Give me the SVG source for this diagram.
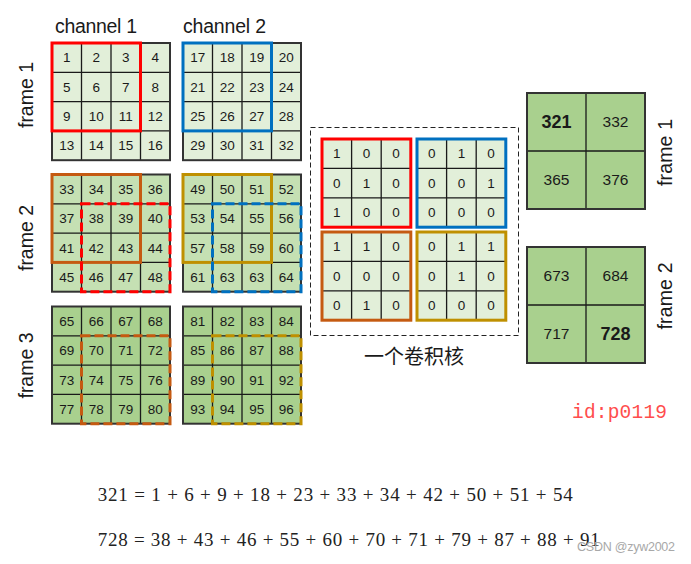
<svg xmlns="http://www.w3.org/2000/svg" width="691" height="564" viewBox="0 0 691 564">
<style>
text{font-family:"Liberation Sans",Arial,sans-serif;fill:#1a1a1a}
.n{font-size:13.5px;text-anchor:middle}
.lab{font-size:19.5px}
.o{font-size:15.5px;text-anchor:middle}
.ob{font-size:18px;font-weight:bold;text-anchor:middle}
.bg1{fill:#e2efd9}
.bg2{fill:#c5e0b3}
.bg3{fill:#a9d08e}
.ln{fill:none;stroke:#1a1a1a;stroke-width:1.3}
.bd{fill:none;stroke:#333;stroke-width:2}
.hl{fill:none;stroke-width:3}
.ds{stroke-dasharray:9 4}
.red{stroke:#ff0000}
.blue{stroke:#0070c0}
.brown{stroke:#c55a11}
.gold{stroke:#bf9000}
.f{font-family:"Liberation Serif","Times New Roman",serif;font-size:19px;fill:#222}
</style>
<defs>
<path id="g4" d="M29.5 0V117.2M59 0V117.2M88.5 0V117.2M0 29.3H118M0 58.6H118M0 87.9H118"/>
<path id="g3" d="M29.6 0V88.2M59.2 0V88.2M0 29.4H88.8M0 58.8H88.8"/>
<path id="g2" d="M59 0V116M0 58H118"/>
</defs>

<text class="lab" x="55" y="33" textLength="82">channel 1</text>
<text class="lab" x="183" y="33" textLength="83">channel 2</text>
<text class="lab" transform="translate(33,95) rotate(-90)" text-anchor="middle" textLength="66">frame 1</text>
<text class="lab" transform="translate(33,238) rotate(-90)" text-anchor="middle" textLength="66">frame 2</text>
<text class="lab" transform="translate(33,365.5) rotate(-90)" text-anchor="middle" textLength="66">frame 3</text>

<g id="f1c1" transform="translate(52,43)">
<rect class="bg1" width="118" height="117.2"/><use href="#g4" class="ln"/><rect class="bd" width="118" height="117.2"/>
<text class="n" x="14.75" y="19.4">1</text><text class="n" x="44.25" y="19.4">2</text><text class="n" x="73.75" y="19.4">3</text><text class="n" x="103.25" y="19.4">4</text>
<text class="n" x="14.75" y="48.7">5</text><text class="n" x="44.25" y="48.7">6</text><text class="n" x="73.75" y="48.7">7</text><text class="n" x="103.25" y="48.7">8</text>
<text class="n" x="14.75" y="78">9</text><text class="n" x="44.25" y="78">10</text><text class="n" x="73.75" y="78">11</text><text class="n" x="103.25" y="78">12</text>
<text class="n" x="14.75" y="107.3">13</text><text class="n" x="44.25" y="107.3">14</text><text class="n" x="73.75" y="107.3">15</text><text class="n" x="103.25" y="107.3">16</text>
<rect class="hl red" width="88.5" height="87.9"/>
</g>
<g id="f1c2" transform="translate(183,43)">
<rect class="bg1" width="118" height="117.2"/><use href="#g4" class="ln"/><rect class="bd" width="118" height="117.2"/>
<text class="n" x="14.75" y="19.4">17</text><text class="n" x="44.25" y="19.4">18</text><text class="n" x="73.75" y="19.4">19</text><text class="n" x="103.25" y="19.4">20</text>
<text class="n" x="14.75" y="48.7">21</text><text class="n" x="44.25" y="48.7">22</text><text class="n" x="73.75" y="48.7">23</text><text class="n" x="103.25" y="48.7">24</text>
<text class="n" x="14.75" y="78">25</text><text class="n" x="44.25" y="78">26</text><text class="n" x="73.75" y="78">27</text><text class="n" x="103.25" y="78">28</text>
<text class="n" x="14.75" y="107.3">29</text><text class="n" x="44.25" y="107.3">30</text><text class="n" x="73.75" y="107.3">31</text><text class="n" x="103.25" y="107.3">32</text>
<rect class="hl blue" width="88.5" height="87.9"/>
</g>
<g id="f2c1" transform="translate(52,174.5)">
<rect class="bg2" width="118" height="117.2"/><use href="#g4" class="ln"/><rect class="bd" width="118" height="117.2"/>
<text class="n" x="14.75" y="19.4">33</text><text class="n" x="44.25" y="19.4">34</text><text class="n" x="73.75" y="19.4">35</text><text class="n" x="103.25" y="19.4">36</text>
<text class="n" x="14.75" y="48.7">37</text><text class="n" x="44.25" y="48.7">38</text><text class="n" x="73.75" y="48.7">39</text><text class="n" x="103.25" y="48.7">40</text>
<text class="n" x="14.75" y="78">41</text><text class="n" x="44.25" y="78">42</text><text class="n" x="73.75" y="78">43</text><text class="n" x="103.25" y="78">44</text>
<text class="n" x="14.75" y="107.3">45</text><text class="n" x="44.25" y="107.3">46</text><text class="n" x="73.75" y="107.3">47</text><text class="n" x="103.25" y="107.3">48</text>
<rect class="hl brown" width="88.5" height="87.9"/>
<rect class="hl red ds" x="29.5" y="29.3" width="88.5" height="87.9"/>
</g>
<g id="f2c2" transform="translate(183,174.5)">
<rect class="bg2" width="118" height="117.2"/><use href="#g4" class="ln"/><rect class="bd" width="118" height="117.2"/>
<text class="n" x="14.75" y="19.4">49</text><text class="n" x="44.25" y="19.4">50</text><text class="n" x="73.75" y="19.4">51</text><text class="n" x="103.25" y="19.4">52</text>
<text class="n" x="14.75" y="48.7">53</text><text class="n" x="44.25" y="48.7">54</text><text class="n" x="73.75" y="48.7">55</text><text class="n" x="103.25" y="48.7">56</text>
<text class="n" x="14.75" y="78">57</text><text class="n" x="44.25" y="78">58</text><text class="n" x="73.75" y="78">59</text><text class="n" x="103.25" y="78">60</text>
<text class="n" x="14.75" y="107.3">61</text><text class="n" x="44.25" y="107.3">63</text><text class="n" x="73.75" y="107.3">63</text><text class="n" x="103.25" y="107.3">64</text>
<rect class="hl gold" width="88.5" height="87.9"/>
<rect class="hl blue ds" x="29.5" y="29.3" width="88.5" height="87.9"/>
</g>
<g id="f3c1" transform="translate(52,306.5)">
<rect class="bg3" width="118" height="117.2"/><use href="#g4" class="ln"/><rect class="bd" width="118" height="117.2"/>
<text class="n" x="14.75" y="19.4">65</text><text class="n" x="44.25" y="19.4">66</text><text class="n" x="73.75" y="19.4">67</text><text class="n" x="103.25" y="19.4">68</text>
<text class="n" x="14.75" y="48.7">69</text><text class="n" x="44.25" y="48.7">70</text><text class="n" x="73.75" y="48.7">71</text><text class="n" x="103.25" y="48.7">72</text>
<text class="n" x="14.75" y="78">73</text><text class="n" x="44.25" y="78">74</text><text class="n" x="73.75" y="78">75</text><text class="n" x="103.25" y="78">76</text>
<text class="n" x="14.75" y="107.3">77</text><text class="n" x="44.25" y="107.3">78</text><text class="n" x="73.75" y="107.3">79</text><text class="n" x="103.25" y="107.3">80</text>
<rect class="hl brown ds" x="29.5" y="29.3" width="88.5" height="87.9"/>
</g>
<g id="f3c2" transform="translate(183,306.5)">
<rect class="bg3" width="118" height="117.2"/><use href="#g4" class="ln"/><rect class="bd" width="118" height="117.2"/>
<text class="n" x="14.75" y="19.4">81</text><text class="n" x="44.25" y="19.4">82</text><text class="n" x="73.75" y="19.4">83</text><text class="n" x="103.25" y="19.4">84</text>
<text class="n" x="14.75" y="48.7">85</text><text class="n" x="44.25" y="48.7">86</text><text class="n" x="73.75" y="48.7">87</text><text class="n" x="103.25" y="48.7">88</text>
<text class="n" x="14.75" y="78">89</text><text class="n" x="44.25" y="78">90</text><text class="n" x="73.75" y="78">91</text><text class="n" x="103.25" y="78">92</text>
<text class="n" x="14.75" y="107.3">93</text><text class="n" x="44.25" y="107.3">94</text><text class="n" x="73.75" y="107.3">95</text><text class="n" x="103.25" y="107.3">96</text>
<rect class="hl gold ds" x="29.5" y="29.3" width="88.5" height="87.9"/>
</g>

<g id="kernel">
<rect x="310.5" y="127.5" width="208" height="208" fill="none" stroke="#222" stroke-width="1" stroke-dasharray="5 3"/>
<g id="k-red" transform="translate(322,139)">
<rect class="bg1" width="88.8" height="88.2"/><use href="#g3" class="ln"/>
<text class="n" x="14.8" y="19.4">1</text><text class="n" x="44.4" y="19.4">0</text><text class="n" x="74" y="19.4">0</text>
<text class="n" x="14.8" y="48.8">0</text><text class="n" x="44.4" y="48.8">1</text><text class="n" x="74" y="48.8">0</text>
<text class="n" x="14.8" y="78.2">1</text><text class="n" x="44.4" y="78.2">0</text><text class="n" x="74" y="78.2">0</text>
<rect class="hl red" width="88.8" height="88.2"/>
</g>
<g id="k-blue" transform="translate(417,139)">
<rect class="bg1" width="88.8" height="88.2"/><use href="#g3" class="ln"/>
<text class="n" x="14.8" y="19.4">0</text><text class="n" x="44.4" y="19.4">1</text><text class="n" x="74" y="19.4">0</text>
<text class="n" x="14.8" y="48.8">0</text><text class="n" x="44.4" y="48.8">0</text><text class="n" x="74" y="48.8">1</text>
<text class="n" x="14.8" y="78.2">0</text><text class="n" x="44.4" y="78.2">0</text><text class="n" x="74" y="78.2">0</text>
<rect class="hl blue" width="88.8" height="88.2"/>
</g>
<g id="k-brown" transform="translate(322,232)">
<rect class="bg1" width="88.8" height="88.2"/><use href="#g3" class="ln"/>
<text class="n" x="14.8" y="19.4">1</text><text class="n" x="44.4" y="19.4">1</text><text class="n" x="74" y="19.4">0</text>
<text class="n" x="14.8" y="48.8">0</text><text class="n" x="44.4" y="48.8">0</text><text class="n" x="74" y="48.8">0</text>
<text class="n" x="14.8" y="78.2">0</text><text class="n" x="44.4" y="78.2">1</text><text class="n" x="74" y="78.2">0</text>
<rect class="hl brown" width="88.8" height="88.2"/>
</g>
<g id="k-gold" transform="translate(417,232)">
<rect class="bg1" width="88.8" height="88.2"/><use href="#g3" class="ln"/>
<text class="n" x="14.8" y="19.4">0</text><text class="n" x="44.4" y="19.4">1</text><text class="n" x="74" y="19.4">1</text>
<text class="n" x="14.8" y="48.8">0</text><text class="n" x="44.4" y="48.8">1</text><text class="n" x="74" y="48.8">0</text>
<text class="n" x="14.8" y="78.2">0</text><text class="n" x="44.4" y="78.2">0</text><text class="n" x="74" y="78.2">0</text>
<rect class="hl gold" width="88.8" height="88.2"/>
</g>
<text x="414" y="364" text-anchor="middle" style="font-family:'Noto Sans CJK SC','Noto Sans',sans-serif;font-size:20px">一个卷积核</text>
</g>

<g id="out1" transform="translate(527,93)">
<rect class="bg3" width="118" height="116"/><use href="#g2" class="ln"/><rect class="bd" width="118" height="116"/>
<text class="ob" x="29.5" y="35.3">321</text><text class="o" x="88.5" y="34.4">332</text>
<text class="o" x="29.5" y="92.4">365</text><text class="o" x="88.5" y="92.4">376</text>
</g>
<g id="out2" transform="translate(527,247)">
<rect class="bg3" width="118" height="116"/><use href="#g2" class="ln"/><rect class="bd" width="118" height="116"/>
<text class="o" x="29.5" y="34.4">673</text><text class="o" x="88.5" y="34.4">684</text>
<text class="o" x="29.5" y="92.4">717</text><text class="ob" x="88.5" y="93.3">728</text>
</g>
<text class="lab" transform="translate(671.5,152.5) rotate(-90)" text-anchor="middle" textLength="67">frame 1</text>
<text class="lab" transform="translate(671.5,296) rotate(-90)" text-anchor="middle" textLength="67">frame 2</text>

<text x="572" y="418" textLength="95" style="font-family:'Liberation Mono','Courier New',monospace;font-size:19.5px;fill:#ff4d4d">id:p0119</text>

<text class="f" x="97.7" y="500.7" textLength="475">321 = 1 + 6 + 9 + 18 + 23 + 33 + 34 + 42 + 50 + 51 + 54</text>
<text class="f" x="97.7" y="546" textLength="502">728 = 38 + 43 + 46 + 55 + 60 + 70 + 71 + 79 + 87 + 88 + 91</text>
<text x="577" y="551" textLength="98" style="font-size:12.5px;fill:#a8a8a8">CSDN @zyw2002</text>
</svg>
